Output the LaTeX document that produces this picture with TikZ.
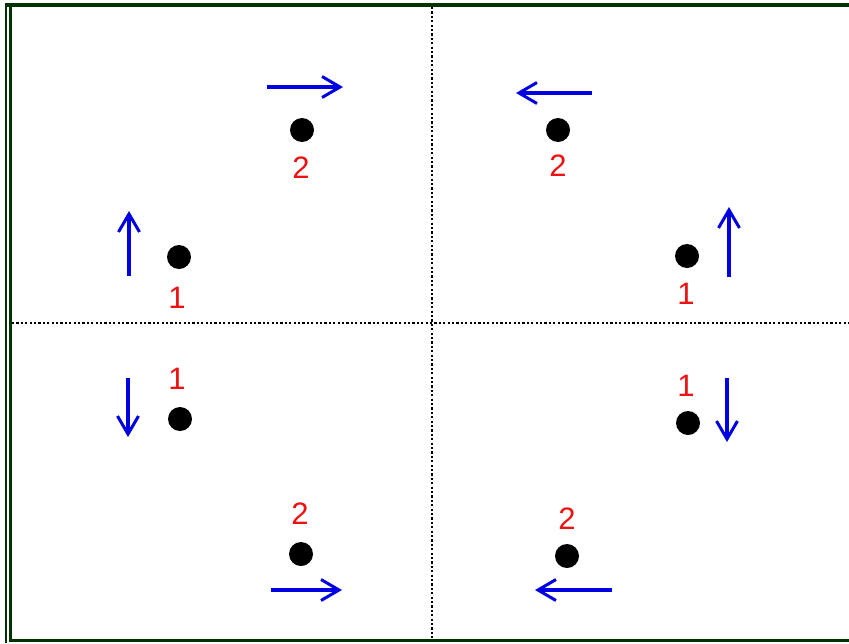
\documentclass[tikz,border=0pt]{standalone}
\usepackage{fontspec}
\setmainfont{Liberation Sans}
\usetikzlibrary{arrows.meta}
\definecolor{frame}{HTML}{003300}
\definecolor{arrblue}{HTML}{0000E0}
\definecolor{lblred}{HTML}{EE1111}
\tikzset{
  mv/.style={draw=arrblue, line width=4.5pt, -{Straight Barb[length=18pt,width=21pt,line width=3pt]}},
  ball/.style={circle, fill=black, inner sep=0pt, minimum size=24pt},
  lbl/.style={text=lblred, font=\fontsize{31}{33}\selectfont, inner sep=0pt},
  grid/.style={draw=black, line width=2.2pt, dash pattern=on 2.2pt off 2.2pt}
}
\begin{document}
\begin{tikzpicture}[x=1pt,y=-1pt]
\useasboundingbox (0,0) rectangle (849,643);
\fill[white] (0,0) rectangle (849,643);
% frame
\draw[frame, line width=1.6pt] (6,3) -- (6,643);
\draw[frame, line width=4.5pt] (5.2,5) -- (849,5);
\draw[frame, line width=3pt] (10.5,5) -- (10.5,640.5) -- (849,640.5);
% dotted axes
\coordinate (vt) at (432,7);
\coordinate (vb) at (432,639);
\coordinate (hl) at (12,323);
\coordinate (hr) at (849,323);
\draw[grid] (vt) -- (vb);
\draw[grid] (hl) -- (hr);
% top-left
\node[ball] (a2) at (302,130) {};
\node[lbl] (a2l) at (301,168) {2};
\coordinate (a2s) at (267,87); \coordinate (a2e) at (343,87);
\draw[mv] (a2s) -- (a2e);
\node[ball] (a1) at (179,257) {};
\node[lbl] (a1l) at (177,298) {1};
\coordinate (a1s) at (129,276); \coordinate (a1e) at (129,211);
\draw[mv] (a1s) -- (a1e);
% top-right
\node[ball] (b2) at (558,130) {};
\node[lbl] (b2l) at (558,166) {2};
\coordinate (b2s) at (592,93); \coordinate (b2e) at (516,93);
\draw[mv] (b2s) -- (b2e);
\node[ball] (b1) at (687,256) {};
\node[lbl] (b1l) at (686,294) {1};
\coordinate (b1s) at (729,277); \coordinate (b1e) at (729,207);
\draw[mv] (b1s) -- (b1e);
% bottom-left
\node[ball] (c1) at (180,419) {};
\node[lbl] (c1l) at (177,379) {1};
\coordinate (c1s) at (128,378); \coordinate (c1e) at (128,437);
\draw[mv] (c1s) -- (c1e);
\node[ball] (c2) at (301,554) {};
\node[lbl] (c2l) at (300,514) {2};
\coordinate (c2s) at (271,590); \coordinate (c2e) at (342,590);
\draw[mv] (c2s) -- (c2e);
% bottom-right
\node[ball] (d1) at (688,423) {};
\node[lbl] (d1l) at (686,386) {1};
\coordinate (d1s) at (727,378); \coordinate (d1e) at (727,442);
\draw[mv] (d1s) -- (d1e);
\node[ball] (d2) at (567,556) {};
\node[lbl] (d2l) at (567,519) {2};
\coordinate (d2s) at (612,590); \coordinate (d2e) at (535,590);
\draw[mv] (d2s) -- (d2e);
\end{tikzpicture}
\end{document}
